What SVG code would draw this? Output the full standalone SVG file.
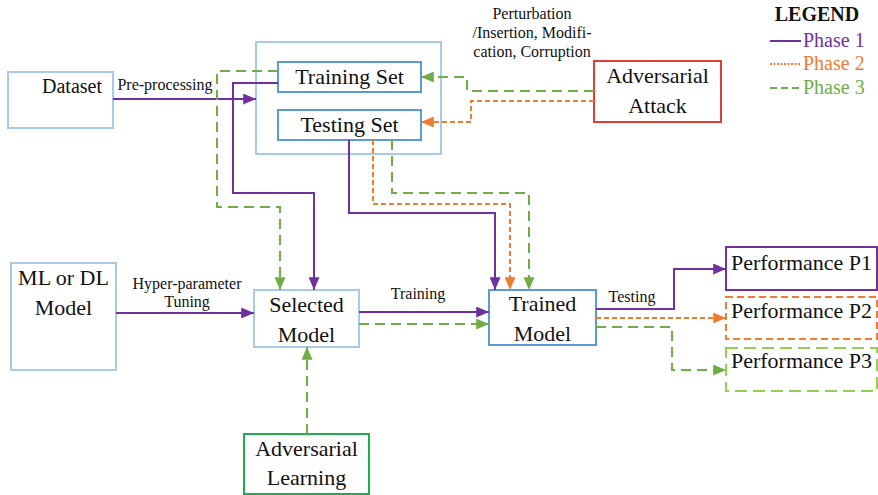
<svg xmlns="http://www.w3.org/2000/svg" width="878" height="495" viewBox="0 0 878 495" font-family="'Liberation Serif', serif">
  <style>
    .lt { fill: #fff; stroke: #a9c9e8; stroke-width: 2; }
    .dk { fill: #fff; stroke: #5b9bd5; stroke-width: 2; }
    .p1 { fill: none; stroke: #7030a0; stroke-width: 2; }
    .p2 { fill: none; stroke: #ed7d31; stroke-width: 2; stroke-dasharray: 5 3; }
    .p3 { fill: none; stroke: #70ad47; stroke-width: 2; stroke-dasharray: 10 6; }
  </style>
  <defs>
    <marker id="a2" viewBox="0 0 14 12" refX="14" refY="6" markerWidth="13" markerHeight="11" orient="auto" markerUnits="userSpaceOnUse">
      <path d="M0,0 L14,6 L0,12 z" fill="#ed7d31"/>
    </marker>
    <marker id="a3" viewBox="0 0 14 12" refX="14" refY="6" markerWidth="13" markerHeight="11" orient="auto" markerUnits="userSpaceOnUse">
      <path d="M0,0 L14,6 L0,12 z" fill="#70ad47"/>
    </marker>
    <marker id="ap" viewBox="0 0 14 12" refX="14" refY="6" markerWidth="13" markerHeight="11" orient="auto" markerUnits="userSpaceOnUse">
      <path d="M0,0 L14,6 L0,12 z" fill="#7030a0"/>
    </marker>
  </defs>

  <!-- nodes -->
  <g id="nodes" text-anchor="middle" fill="#111" font-size="22">
    <g id="dataset">
      <rect class="lt" x="8" y="72" width="105" height="56"/>
      <text x="72" y="93" font-size="20">Dataset</text>
    </g>
    <g id="data-split">
      <rect class="lt" x="256" y="42" width="185" height="112"/>
    </g>
    <g id="training-set">
      <rect class="dk" x="278" y="62" width="143" height="30"/>
      <text x="349.5" y="84">Training Set</text>
    </g>
    <g id="testing-set">
      <rect class="dk" x="278" y="110" width="143" height="30"/>
      <text x="349.5" y="132">Testing Set</text>
    </g>
    <g id="adversarial-attack">
      <rect x="594" y="61" width="127" height="61" fill="#fff" stroke="#e03c31" stroke-width="2"/>
      <text x="657.5" y="83">Adversarial</text>
      <text x="657.5" y="113">Attack</text>
    </g>
    <g id="ml-model">
      <rect class="lt" x="11" y="263" width="105" height="107"/>
      <text x="63.5" y="285">ML or DL</text>
      <text x="63.5" y="315">Model</text>
    </g>
    <g id="selected-model">
      <rect class="lt" x="254" y="290" width="105" height="57"/>
      <text x="306.5" y="312">Selected</text>
      <text x="306.5" y="342">Model</text>
    </g>
    <g id="trained-model">
      <rect class="dk" x="489" y="290" width="107" height="55"/>
      <text x="542.5" y="311">Trained</text>
      <text x="542.5" y="341">Model</text>
    </g>
    <g id="adversarial-learning">
      <rect x="244" y="434" width="125" height="60" fill="#fff" stroke="#1fae4b" stroke-width="2"/>
      <text x="306.5" y="456">Adversarial</text>
      <text x="306.5" y="485">Learning</text>
    </g>
    <g id="perf-p1">
      <rect x="726" y="247" width="151" height="43" fill="#fff" stroke="#7030a0" stroke-width="2"/>
      <text x="801.5" y="270">Performance P1</text>
    </g>
    <g id="perf-p2">
      <rect x="726" y="297" width="151" height="42" fill="#fff" stroke="#ed7d31" stroke-width="2" stroke-dasharray="7 4"/>
      <text x="801.5" y="318">Performance P2</text>
    </g>
    <g id="perf-p3">
      <rect x="726" y="348" width="151" height="43" fill="#fff" stroke="#92d050" stroke-width="2" stroke-dasharray="12 6"/>
      <text x="801.5" y="368">Performance P3</text>
    </g>
  </g>

  <!-- connectors -->
  <g id="connectors">
    <path class="p1" d="M113,99 H256" marker-end="url(#ap)"/>
    <path class="p3" d="M278,71 H217 V207 H280 V290" marker-end="url(#a3)"/>
    <path class="p1" d="M278,83 H233 V193 H314 V290" marker-end="url(#ap)"/>
    <path class="p1" d="M349,140 V213 H495 V290" marker-end="url(#ap)"/>
    <path class="p2" d="M373,140 V204 H510 V290" marker-end="url(#a2)"/>
    <path class="p3" d="M392,140 V193 H529 V290" marker-end="url(#a3)"/>
    <path class="p3" d="M594,91 H467 V77 H421" marker-end="url(#a3)"/>
    <path class="p2" d="M594,101 H471 V122 H421" marker-end="url(#a2)"/>
    <path class="p1" d="M116,313 H254" marker-end="url(#ap)"/>
    <path class="p1" d="M359,312 H489" marker-end="url(#ap)"/>
    <path class="p3" d="M359,324 H489" marker-end="url(#a3)"/>
    <path class="p3" d="M307,434 V347" marker-end="url(#a3)"/>
    <path class="p1" d="M596,309 H674 V269 H726" marker-end="url(#ap)"/>
    <path class="p2" d="M596,318 H726" marker-end="url(#a2)"/>
    <path class="p3" d="M596,327 H672 V370 H726" marker-end="url(#a3)"/>
  </g>

  <!-- connector labels -->
  <g id="labels" text-anchor="middle" font-size="16" fill="#111">
    <text x="165" y="90">Pre-processing</text>
    <text x="532" y="19">Perturbation</text>
    <text x="532" y="38">/Insertion, Modifi-</text>
    <text x="532" y="57">cation, Corruption</text>
    <text x="187" y="289">Hyper-parameter</text>
    <text x="187" y="307">Tuning</text>
    <text x="418" y="299">Training</text>
    <text x="632" y="302">Testing</text>
  </g>

  <!-- legend -->
  <g id="legend" font-size="20">
    <text x="817" y="21" font-weight="bold" text-anchor="middle" fill="#111">LEGEND</text>
    <line x1="770" y1="41" x2="801" y2="41" stroke="#7030a0" stroke-width="2"/>
    <text x="803" y="47" fill="#7030a0">Phase 1</text>
    <line x1="770" y1="64" x2="801" y2="64" stroke="#ed7d31" stroke-width="2" stroke-dasharray="2 1.5"/>
    <text x="803" y="70" fill="#ed7d31">Phase 2</text>
    <line x1="770" y1="88" x2="801" y2="88" stroke="#70ad47" stroke-width="2" stroke-dasharray="7 4"/>
    <text x="803" y="94" fill="#70ad47">Phase 3</text>
  </g>
</svg>
